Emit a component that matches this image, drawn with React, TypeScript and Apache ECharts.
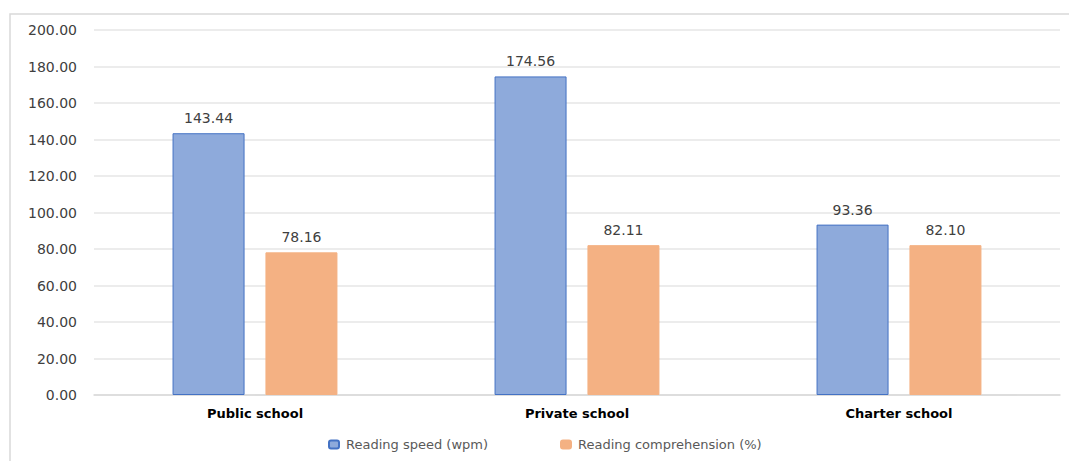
import React, { useEffect, useRef } from "react";
import * as echarts from "echarts";

const categories = ["Public school", "Private school", "Charter school"];
const readingSpeed = [143.44, 174.56, 93.36];
const readingComprehension = [78.16, 82.11, 82.1];
const seriesNames = ["Reading speed (wpm)", "Reading comprehension (%)"];

const FONT = "DejaVu Sans, Verdana, sans-serif";

export default function App() {
  const ref = useRef<HTMLDivElement>(null);
  useEffect(() => {
    document.body.style.margin = "0";
    const chart = echarts.init(ref.current!, null, { renderer: "svg" });
    const label = {
      show: true,
      position: "top",
      distance: 8,
      color: "#404040",
      fontSize: 14,
      fontFamily: FONT,
      formatter: (p: any) => Number(p.value).toFixed(2),
    };
    const legendText = {
      color: "#595959",
      fontSize: 13,
      fontFamily: FONT,
      padding: [0, 0, 0, 2],
    };
    chart.setOption({
      animation: false,
      backgroundColor: "#ffffff",
      graphic: [
        {
          type: "rect",
          shape: { x: 10, y: 14, width: 1080, height: 470 },
          style: { fill: "none", stroke: "#d9d9d9", lineWidth: 1.5 },
          silent: true,
        },
      ],
      grid: { left: 94, right: 9, top: 30, bottom: 66 },
      xAxis: {
        type: "category",
        data: categories,
        axisLine: { show: true, lineStyle: { color: "#d9d9d9", width: 1.5 } },
        axisTick: { show: false },
        axisLabel: {
          color: "#000000",
          fontWeight: "bold",
          fontSize: 13,
          margin: 12,
          fontFamily: FONT,
        },
      },
      yAxis: {
        type: "value",
        min: 0,
        max: 200,
        interval: 20,
        axisLine: { show: false },
        axisTick: { show: false },
        splitLine: { lineStyle: { color: "#e6e6e6", width: 1.5 } },
        axisLabel: {
          color: "#404040",
          fontSize: 14,
          margin: 17,
          fontFamily: FONT,
          formatter: (v: number) => v.toFixed(2),
        },
      },
      legend: [
        {
          top: 433,
          left: 323,
          itemWidth: 10,
          itemHeight: 8,
          textStyle: legendText,
          data: [seriesNames[0]],
        },
        {
          top: 433,
          left: 555,
          itemWidth: 10,
          itemHeight: 8,
          textStyle: legendText,
          data: [seriesNames[1]],
        },
      ],
      series: [
        {
          name: seriesNames[0],
          type: "bar",
          data: readingSpeed,
          barWidth: 72,
          barGap: "29%",
          itemStyle: { color: "#8eaadb", borderColor: "#4472c4", borderWidth: 1 },
          label,
        },
        {
          name: seriesNames[1],
          type: "bar",
          data: readingComprehension,
          barWidth: 72,
          itemStyle: { color: "#f4b183", borderColor: "#f4b183", borderWidth: 1 },
          label,
        },
      ],
    });
    return () => chart.dispose();
  }, []);
  return (
    <div
      ref={ref}
      style={{ position: "absolute", left: 0, top: 0, width: 1069, height: 461 }}
    />
  );
}
